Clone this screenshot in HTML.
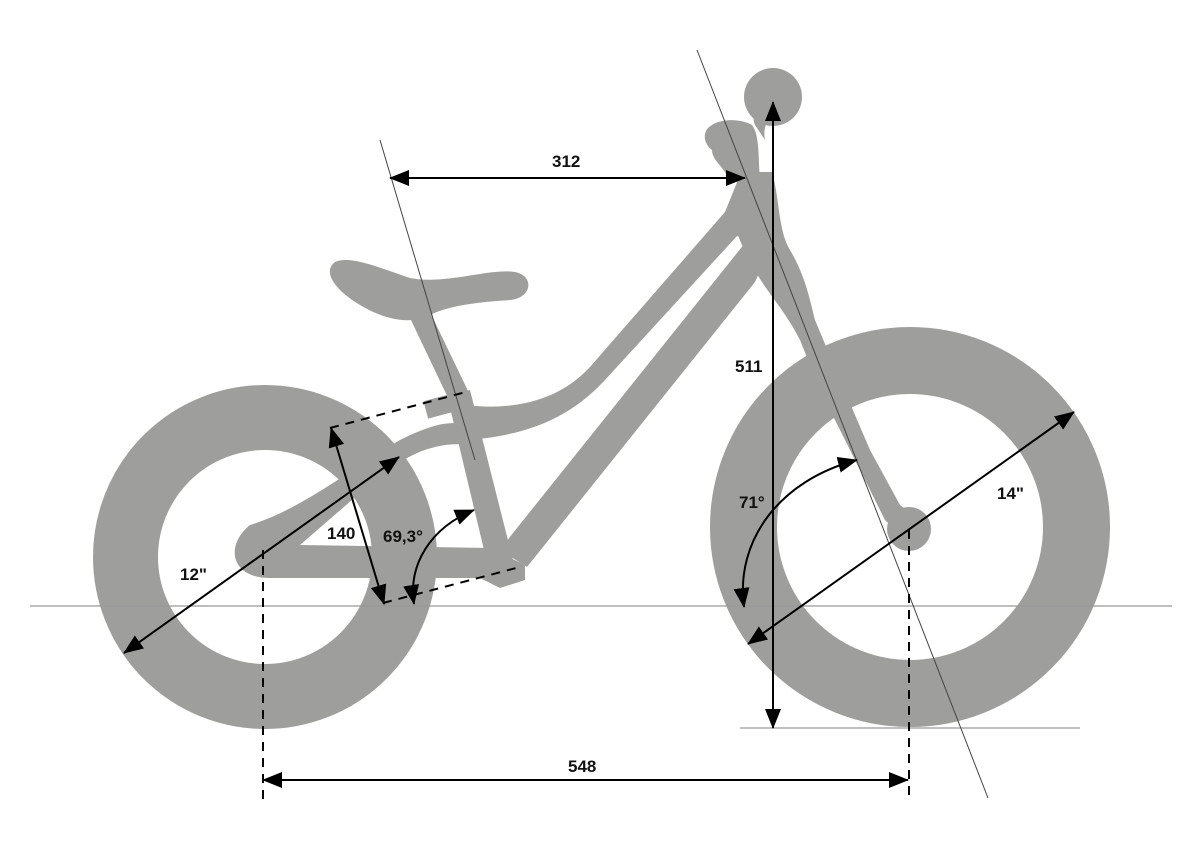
<!DOCTYPE html>
<html><head><meta charset="utf-8"><style>
html,body{margin:0;padding:0;background:#fff;}
svg{display:block;}
text{font-family:"Liberation Sans",Arial,sans-serif;font-weight:bold;font-size:17px;fill:#111;}
</style></head><body>
<svg width="1202" height="851" viewBox="0 0 1202 851" xmlns="http://www.w3.org/2000/svg">
<defs>
<marker id="a" viewBox="0 0 20 16" refX="19" refY="8" markerWidth="20" markerHeight="16" markerUnits="userSpaceOnUse" orient="auto-start-reverse">
<path d="M0,0 L20,8 L0,16 z" fill="#000"/>
</marker>
</defs>
<g fill="#9e9e9c" stroke="none">
<circle cx="265" cy="557" r="139.5" fill="none" stroke="#9e9e9c" stroke-width="65"/>
<circle cx="910" cy="527" r="166.5" fill="none" stroke="#9e9e9c" stroke-width="67"/>
<path d="M335,262 C350,255 380,268 410,278 C445,285 490,268 515,272 C535,276 532,298 510,300 C480,302 450,305 430,315 C410,325 385,320 360,305 C335,290 322,272 335,262 Z"/>
<path d="M410,318 L430,312 L470,395 L450,402 Z"/>
<rect x="425" y="395" width="45" height="18" transform="rotate(-15 448 404)"/>
<path d="M465,405 C505,410 555,405 590,367 L725,212 L740,175 L770,175 L770,245 L737,236 L605,380 C570,418 530,432 487,438 L468,440 Z"/>
<path d="M745,243 L770,250 L755,282 L527,567 L500,550 L513,533 Z"/>
<path d="M447,395 L470,390 L515,568 L490,575 Z"/>
<path d="M250,525 C300,510 350,470 400,440 C430,425 450,420 465,425 L470,445 C430,440 400,460 375,480 L300,545 L490,548 L525,565 L525,580 L500,588 L480,578 L270,578 C230,578 225,545 250,525 Z"/>
<path d="M738,172 L772,172 C780,200 778,230 790,250 C805,275 810,300 815,320 L840,380 L870,450 L900,505 L920,520 L905,540 L885,520 L855,460 L820,390 L800,340 C785,310 765,290 755,270 C745,250 730,230 735,200 Z"/>
<circle cx="909" cy="529" r="22"/>
<path d="M708,128 C718,118 740,118 752,125 C760,135 758,160 760,178 L730,180 C722,165 712,160 712,150 C705,145 702,135 708,128 Z"/>
<path d="M755,125 C750,112 758,100 770,100 L778,112 C770,115 762,125 765,140 Z"/>
<circle cx="773" cy="97" r="29"/>
</g>
<g stroke="#777" stroke-width="1.2" fill="none">
<line x1="30" y1="606" x2="1172" y2="606" stroke="#999"/>
<line x1="740" y1="728" x2="1080" y2="728" stroke="#999"/>
<line x1="380" y1="140" x2="475" y2="460" stroke="#444" stroke-width="1"/>
<line x1="697" y1="50" x2="988" y2="798" stroke="#444" stroke-width="1"/>
</g>
<g stroke="#000" stroke-width="2" stroke-dasharray="9,7" fill="none">
<line x1="263" y1="550" x2="263" y2="800"/>
<line x1="909" y1="530" x2="909" y2="795"/>
<line x1="330" y1="428" x2="466" y2="392"/>
<line x1="383" y1="603" x2="520" y2="567"/>
</g>
<g stroke="#000" stroke-width="2" fill="none">
<line x1="390" y1="178" x2="745" y2="178" marker-start="url(#a)" marker-end="url(#a)"/>
<line x1="773" y1="102" x2="773" y2="728" marker-start="url(#a)" marker-end="url(#a)"/>
<line x1="263" y1="780" x2="908" y2="780" marker-start="url(#a)" marker-end="url(#a)"/>
<line x1="124" y1="653" x2="399" y2="457" marker-start="url(#a)" marker-end="url(#a)"/>
<line x1="748" y1="644" x2="1074" y2="412" marker-start="url(#a)" marker-end="url(#a)"/>
<line x1="331" y1="428" x2="384" y2="604" marker-start="url(#a)" marker-end="url(#a)"/>
<path d="M414,604 C408,565 430,528 474,510" marker-start="url(#a)" marker-end="url(#a)"/>
<path d="M744,607 C735,540 780,480 857,460" marker-start="url(#a)" marker-end="url(#a)"/>
</g>
<text x="552" y="167">312</text>
<text x="735" y="372">511</text>
<text x="568" y="772">548</text>
<text x="180" y="580">12"</text>
<text x="997" y="499">14"</text>
<text x="327" y="539">140</text>
<text x="383" y="542">69,3°</text>
<text x="739" y="508">71°</text>
</svg>
</body></html>
